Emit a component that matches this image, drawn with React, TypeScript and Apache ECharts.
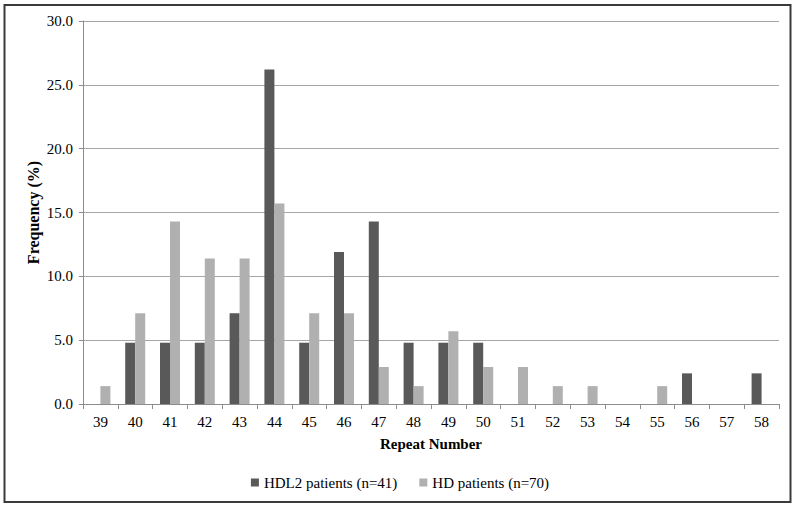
import React, { useEffect, useRef } from "react";
import * as echarts from "echarts";

const categories = ["39","40","41","42","43","44","45","46","47","48","49","50","51","52","53","54","55","56","57","58"];
const hdl2Values = [0, 4.8, 4.8, 4.8, 7.1, 26.2, 4.8, 11.9, 14.3, 4.8, 4.8, 4.8, 0, 0, 0, 0, 0, 2.4, 0, 2.4];
const hdValues = [1.4, 7.1, 14.3, 11.4, 11.4, 15.7, 7.1, 7.1, 2.9, 1.4, 5.7, 2.9, 2.9, 1.4, 1.4, 0, 1.4, 0, 0, 0];
const seriesNames = ["HDL2 patients (n=41)", "HD patients (n=70)"];

const FONT = "Liberation Serif, Times New Roman, serif";

export default function App() {
  const ref = useRef<HTMLDivElement>(null);
  useEffect(() => {
    if (!ref.current) return;
    const chart = echarts.init(ref.current, undefined, { renderer: "svg" });
    chart.setOption({
      animation: false,
      backgroundColor: "#ffffff",
      textStyle: { fontFamily: FONT },
      graphic: [
        {
          type: "rect",
          shape: { x: 4.5, y: 5, width: 786, height: 497 },
          style: { fill: "none", stroke: "#3a3a3a", lineWidth: 2 },
          silent: true,
        },
      ],
      grid: { left: 83, right: 21, top: 21, bottom: 105 },
      legend: {
        data: seriesNames,
        bottom: 14,
        left: "center",
        icon: "rect",
        itemWidth: 8,
        itemHeight: 8,
        itemGap: 22,
        textStyle: { fontFamily: FONT, fontSize: 15, color: "#000" },
      },
      xAxis: {
        type: "category",
        data: categories,
        name: "Repeat Number",
        nameLocation: "middle",
        nameGap: 32,
        nameMoveOverlap: false,
        nameTextStyle: { fontFamily: FONT, fontSize: 15, fontWeight: "bold", color: "#000" },
        axisLine: { lineStyle: { color: "#8c8c8c" } },
        axisTick: { show: true, inside: false, length: 5, lineStyle: { color: "#8c8c8c" } },
        axisLabel: { fontFamily: FONT, fontSize: 15, color: "#000", margin: 10 },
      },
      yAxis: {
        type: "value",
        min: 0,
        max: 30,
        interval: 5,
        name: "Frequency (%)",
        nameLocation: "middle",
        nameGap: 42,
        nameMoveOverlap: false,
        nameTextStyle: { fontFamily: FONT, fontSize: 16, fontWeight: "bold", color: "#000" },
        axisLine: { show: true, lineStyle: { color: "#8c8c8c" } },
        axisTick: { show: true, inside: false, length: 4, lineStyle: { color: "#8c8c8c" } },
        axisLabel: {
          fontFamily: FONT,
          fontSize: 15,
          color: "#000",
          margin: 10,
          formatter: (v: number) => v.toFixed(1),
        },
        splitLine: { lineStyle: { color: "#a6a6a6", width: 1 } },
      },
      series: [
        {
          name: seriesNames[0],
          type: "bar",
          data: hdl2Values,
          barWidth: 10,
          barGap: "0%",
          itemStyle: { color: "#595959" },
        },
        {
          name: seriesNames[1],
          type: "bar",
          data: hdValues,
          barWidth: 10,
          barGap: "0%",
          itemStyle: { color: "#b0b0b0" },
        },
      ],
    });
    return () => chart.dispose();
  }, []);
  return (
    <div
      ref={ref}
      style={{ position: "fixed", left: 0, top: 0, width: 800, height: 509, background: "#fff" }}
    />
  );
}
